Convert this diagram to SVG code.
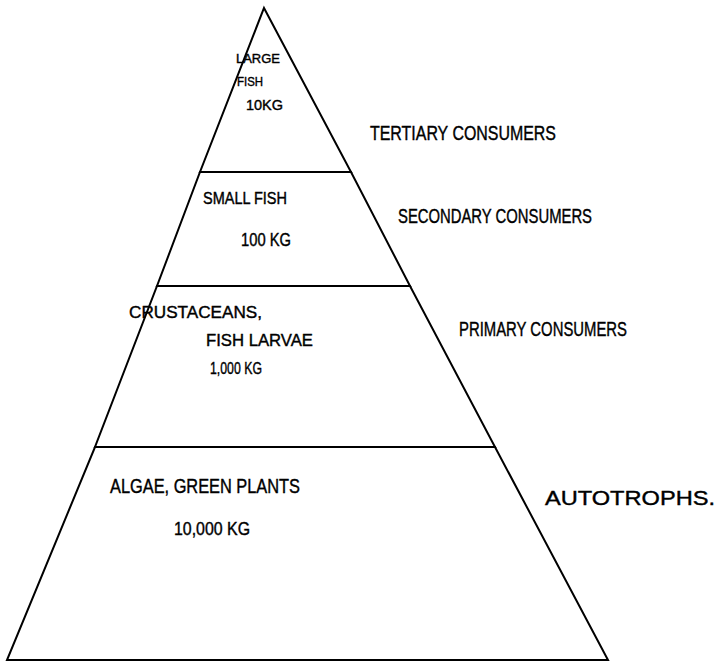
<svg xmlns="http://www.w3.org/2000/svg" width="718" height="666" viewBox="0 0 718 666">
<style>
.tier{fill:none;stroke:#000;stroke-width:2;stroke-linejoin:miter}
text{font-family:"Liberation Sans","DejaVu Sans",sans-serif;fill:#000;stroke:#000;stroke-width:0.4}
.lab{font-size:20px}
</style>
<rect width="718" height="666" fill="#fff"/>
<g id="tier-tertiary">
<polygon class="tier" points="264,8 351,172 200,172"/>
<text x="236" y="63" font-size="13" textLength="44" lengthAdjust="spacingAndGlyphs">LARGE</text>
<text x="237" y="86" font-size="13" textLength="26" lengthAdjust="spacingAndGlyphs">FISH</text>
<text x="246" y="110" font-size="15" textLength="37" lengthAdjust="spacingAndGlyphs">10KG</text>
</g>
<g id="tier-secondary">
<polygon class="tier" points="200,172 351,172 410,286 157,286"/>
<text x="203" y="204" font-size="16" textLength="84" lengthAdjust="spacingAndGlyphs">SMALL FISH</text>
<text x="241" y="246" font-size="18" textLength="50" lengthAdjust="spacingAndGlyphs">100 KG</text>
</g>
<g id="tier-primary">
<polygon class="tier" points="157,286 410,286 495,447 95,447"/>
<text x="129" y="318" font-size="17" textLength="133" lengthAdjust="spacingAndGlyphs">CRUSTACEANS,</text>
<text x="206" y="346" font-size="17" textLength="107" lengthAdjust="spacingAndGlyphs">FISH LARVAE</text>
<text x="210" y="374" font-size="17" textLength="52" lengthAdjust="spacingAndGlyphs">1,000 KG</text>
</g>
<g id="tier-autotrophs">
<polygon class="tier" points="95,447 495,447 608,660 7,660"/>
<text x="110" y="493" font-size="20" textLength="190" lengthAdjust="spacingAndGlyphs">ALGAE, GREEN PLANTS</text>
<text x="174" y="535" font-size="19" textLength="76" lengthAdjust="spacingAndGlyphs">10,000 KG</text>
</g>
<g id="labels">
<text class="lab" x="370" y="140" textLength="186" lengthAdjust="spacingAndGlyphs">TERTIARY CONSUMERS</text>
<text class="lab" x="398" y="223" textLength="194" lengthAdjust="spacingAndGlyphs">SECONDARY CONSUMERS</text>
<text class="lab" x="459" y="336" textLength="168" lengthAdjust="spacingAndGlyphs">PRIMARY CONSUMERS</text>
<text class="lab" x="545" y="505" font-size="22" textLength="170" lengthAdjust="spacingAndGlyphs">AUTOTROPHS.</text>
</g>
</svg>
